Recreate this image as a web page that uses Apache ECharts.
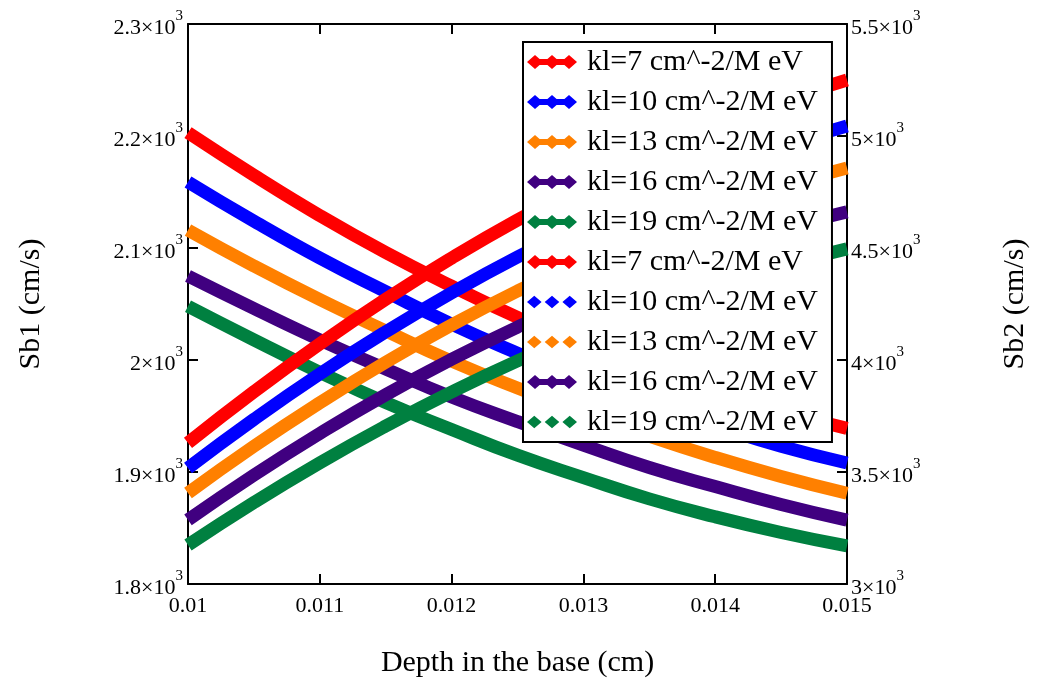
<!DOCTYPE html>
<html>
<head>
<meta charset="utf-8">
<script src="https://cdn.jsdelivr.net/npm/echarts@6/dist/echarts.min.js"></script>
<style>
html,body{margin:0;padding:0;background:#fff;}
#c{width:1038px;height:685px;}
</style>
</head>
<body>
<div id="c"></div>
<script>
// Depth in the base (cm)
const depth = [0.0100, 0.0105, 0.0110, 0.0115, 0.0120, 0.0125, 0.0130, 0.0135, 0.0140, 0.0145, 0.0150];

// Sb1 (cm/s) - left axis (decreasing curves)
const sb1_kl7  = [2203, 2165, 2129, 2096, 2066, 2038, 2013, 1991, 1971, 1954, 1939];
const sb1_kl10 = [2159, 2124, 2091, 2061, 2032, 2006, 1982, 1960, 1941, 1923, 1908];
const sb1_kl13 = [2116, 2084, 2054, 2026, 1999, 1975, 1953, 1932, 1913, 1896, 1881];
const sb1_kl16 = [2075, 2046, 2018, 1992, 1967, 1945, 1924, 1904, 1887, 1871, 1857];
const sb1_kl19 = [2048, 2018, 1989, 1962, 1938, 1915, 1895, 1876, 1860, 1846, 1834];

// Sb2 (cm/s) - right axis (increasing curves)
const sb2_kl7  = [3630, 3858, 4072, 4271, 4455, 4625, 4780, 4920, 5045, 5155, 5250];
const sb2_kl10 = [3518, 3735, 3938, 4126, 4300, 4460, 4605, 4737, 4854, 4956, 5045];
const sb2_kl13 = [3406, 3615, 3809, 3990, 4156, 4308, 4446, 4570, 4680, 4775, 4857];
const sb2_kl16 = [3286, 3486, 3672, 3845, 4003, 4147, 4278, 4395, 4497, 4586, 4661];
const sb2_kl19 = [3174, 3364, 3541, 3705, 3857, 3996, 4121, 4234, 4334, 4421, 4496];

const legendLabels = ['kl=7 cm^-2/M eV', 'kl=10 cm^-2/M eV', 'kl=13 cm^-2/M eV', 'kl=16 cm^-2/M eV', 'kl=19 cm^-2/M eV'];
const colors = ['#ff0000', '#0000ff', '#ff8000', '#400080', '#008040'];

const xLabel = 'Depth in the base (cm)';
const y1Label = 'Sb1 (cm/s)';
const y2Label = 'Sb2 (cm/s)';

const sb1 = [sb1_kl7, sb1_kl10, sb1_kl13, sb1_kl16, sb1_kl19];
const sb2 = [sb2_kl7, sb2_kl10, sb2_kl13, sb2_kl16, sb2_kl19];

const iconLine = 'path://M0 7 L8 0 L16 7 L8 14 Z M17 7 L25 0 L33 7 L25 14 Z M34 7 L42 0 L50 7 L42 14 Z M4 4 L46 4 L46 10 L4 10 Z';
const iconDots = 'path://M1 7 L8 1 L15 7 L8 13 Z M18 7 L25 1 L32 7 L25 13 Z M35 7 L42 1 L49 7 L42 13 Z';
const dotted2 = [false, true, true, false, true];

const FONT = 'Liberation Serif';
const series = [];
const legendData = [];
const labelMap = {};
function pairs(arr){ return depth.map((d,i)=>[d, arr[i]]); }
sb1.forEach((arr,i)=>{
  const name = 'S1_' + i;
  labelMap[name] = legendLabels[i];
  legendData.push({name: name, icon: iconLine});
  series.push({name: name, type:'line', yAxisIndex:0, data: pairs(arr), smooth:true,
    showSymbol:false, symbol:'diamond', color: colors[i],
    lineStyle:{width:13, color: colors[i]}});
});
sb2.forEach((arr,i)=>{
  const name = 'S2_' + i;
  labelMap[name] = legendLabels[i];
  legendData.push({name: name, icon: dotted2[i] ? iconDots : iconLine});
  series.push({name: name, type:'line', yAxisIndex:1, data: pairs(arr), smooth:true,
    showSymbol:false, symbol:'diamond', color: colors[i],
    lineStyle:{width:13, color: colors[i]}});
});

function sci(v){
  const m = parseFloat((v/1000).toFixed(2)).toString();
  return '{m|' + m + '×10}{s|3}';
}
const richLbl = {
  m:{fontFamily:FONT, fontSize:22, color:'#000', lineHeight:30, verticalAlign:'bottom'},
  s:{fontFamily:FONT, fontSize:15, color:'#000', lineHeight:30, verticalAlign:'top'}
};

const chart = echarts.init(document.getElementById('c'), null, {renderer:'canvas'});
chart.setOption({
  animation:false,
  backgroundColor:'#fff',
  grid:{left:188, right:185, top:24, bottom:101, containLabel:false},
  legend:{
    orient:'vertical', left:523, top:42,
    data: legendData,
    formatter: n => labelMap[n],
    itemWidth:50, itemHeight:14, itemGap:10,
    backgroundColor:'#fff', borderColor:'#000', borderWidth:2,
    padding:[5,14,5,4],
    textStyle:{fontFamily:FONT, fontSize:30, color:'#000', lineHeight:30, padding:[0,0,0,5]},
    selectedMode:false
  },
  xAxis:[{
    type:'value', min:0.01, max:0.015, interval:0.001, position:'bottom',
    name: xLabel, nameLocation:'middle', nameGap:64,
    nameTextStyle:{fontFamily:FONT, fontSize:30, color:'#000'},
    axisLine:{show:true, onZero:false, lineStyle:{color:'#000', width:2}},
    axisTick:{show:true, inside:true, length:10, lineStyle:{color:'#000', width:2}},
    axisLabel:{fontFamily:FONT, fontSize:22, color:'#000', margin:11,
      formatter: v => parseFloat(v.toFixed(4)).toString()},
    splitLine:{show:false}
  },{
    type:'value', min:0.01, max:0.015, interval:0.001, position:'top',
    axisLine:{show:true, onZero:false, lineStyle:{color:'#000', width:2}},
    axisTick:{show:true, inside:true, length:10, lineStyle:{color:'#000', width:2}},
    axisLabel:{show:false}, splitLine:{show:false}
  }],
  yAxis:[{
    type:'value', min:1800, max:2300, interval:100, position:'left',
    name: y1Label, nameLocation:'middle', nameGap:142, nameRotate:90,
    nameTextStyle:{fontFamily:FONT, fontSize:30, color:'#000'},
    axisLine:{show:true, onZero:false, lineStyle:{color:'#000', width:2}},
    axisTick:{show:true, inside:true, length:10, lineStyle:{color:'#000', width:2}},
    axisLabel:{margin:5, formatter: sci, rich: richLbl},
    splitLine:{show:false}
  },{
    type:'value', min:3000, max:5500, interval:500, position:'right',
    name: y2Label, nameLocation:'middle', nameGap:153, nameRotate:90,
    nameTextStyle:{fontFamily:FONT, fontSize:30, color:'#000'},
    axisLine:{show:true, onZero:false, lineStyle:{color:'#000', width:2}},
    axisTick:{show:true, inside:true, length:10, lineStyle:{color:'#000', width:2}},
    axisLabel:{margin:4, formatter: sci, rich: richLbl},
    splitLine:{show:false}
  }],
  series: series
});
</script>
</body>
</html>
